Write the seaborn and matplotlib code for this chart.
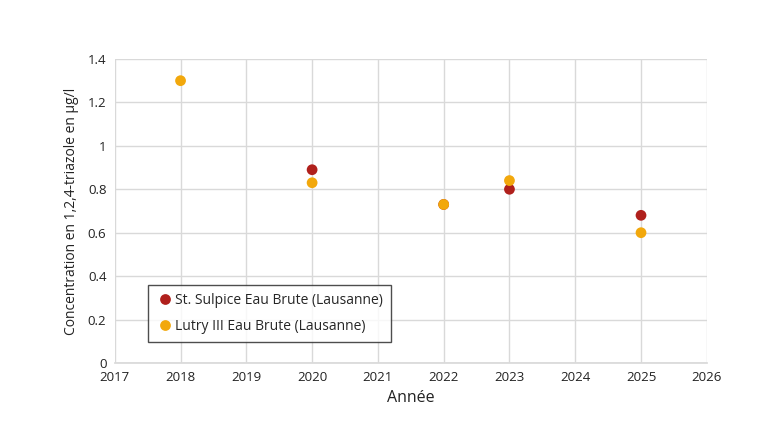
import pandas as pd
import seaborn as sns
import matplotlib.pyplot as plt

sns.set_theme(style="white")
plt.rcParams['font.family'] = ['Open Sans', 'DejaVu Sans']

series_a = "St. Sulpice Eau Brute (Lausanne)"
years_a = [2020, 2022, 2023, 2025]
vals_a = [0.89, 0.73, 0.80, 0.68]

series_b = "Lutry III Eau Brute (Lausanne)"
years_b = [2018, 2020, 2022, 2023, 2025]
vals_b = [1.30, 0.83, 0.73, 0.84, 0.60]

df = pd.concat([
    pd.DataFrame({"year": years_a, "value": vals_a, "serie": series_a}),
    pd.DataFrame({"year": years_b, "value": vals_b, "serie": series_b}),
])

colors = {series_a: "#b0201c", series_b: "#f2a80c"}

fig = plt.figure(figsize=(7.6, 4.4), dpi=100)
ax = fig.add_axes([0.151, 0.175, 0.779, 0.691])

sns.scatterplot(data=df, x="year", y="value", hue="serie", palette=colors,
                s=60, edgecolor="none", ax=ax, zorder=3)

ax.set_xlim(2017, 2026)
ax.set_ylim(0, 1.4)
ax.set_xticks(range(2017, 2027))
ax.set_yticks([0, 0.2, 0.4, 0.6, 0.8, 1.0, 1.2, 1.4])
ax.set_yticklabels(["0", "0.2", "0.4", "0.6", "0.8", "1", "1.2", "1.4"])
ax.grid(True, color="#d9d9d9", linewidth=1)
ax.set_axisbelow(True)
for s in ["top", "right", "left"]:
    ax.spines[s].set_visible(False)
ax.spines["bottom"].set_color("#d9d9d9")
ax.tick_params(axis="both", labelsize=9.5, length=0, pad=6, colors="#222222")

ax.set_xlabel("Année", fontsize=11.5, color="#222222", labelpad=4)
ax.set_ylabel("Concentration en 1,2,4-triazole en µg/l", fontsize=10, color="#222222", labelpad=6)

leg = ax.legend(loc="lower left", bbox_to_anchor=(0.056, 0.069), frameon=True,
                fontsize=10, handletextpad=0.05, borderpad=0.6, labelspacing=0.75,
                borderaxespad=0, fancybox=False, handlelength=1.3)
leg.get_frame().set_edgecolor("#222222")
leg.get_frame().set_linewidth(1)

fig.savefig("out.png", dpi=100)
